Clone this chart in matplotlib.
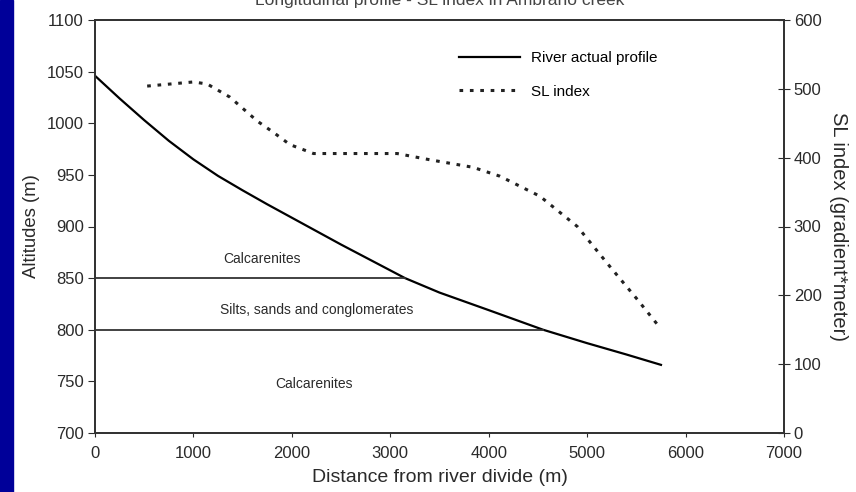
import matplotlib
matplotlib.use("Agg")
import matplotlib.pyplot as plt
from matplotlib.patches import Rectangle

plt.rcParams['font.family'] = ['Liberation Sans', 'DejaVu Sans']

# river longitudinal profile (distance m, altitude m)
river_dist = [0, 250, 500, 750, 1000, 1250, 1500, 1750, 2000, 2250, 2500, 2750, 3000, 3150, 3500, 4000, 4553, 5000, 5400, 5750]
river_alt = [1046, 1024, 1003, 983, 965, 949, 935, 921.5, 908.5, 895.5, 882.5, 870, 857.5, 850, 836, 819, 800, 787, 776, 766]

# SL index (distance m, gradient*meter)
sl_dist = [530, 1000, 1140, 1370, 1650, 1810, 1980, 2220, 2600, 3070, 3400, 3840, 4115, 4520, 4900, 5230, 5510, 5740]
sl_vals = [504, 510, 507, 488, 453, 437, 419, 406, 406, 406, 397, 386, 373, 344, 300, 242, 194, 153]

# lithological boundaries (altitude, end distance where they meet the river)
bound_alt = [850, 800]
bound_end = [3150, 4553]

# unit labels (distance, altitude, text)
unit_x = [1700, 2250, 2220]
unit_y = [869, 819, 747]
unit_txt = ["Calcarenites", "Silts, sands and conglomerates", "Calcarenites"]

txt = "#2a2a2a"

fig = plt.figure(figsize=(8.56, 4.92), dpi=100)
fig.patches.append(Rectangle((0, 0), 13 / 856, 1, transform=fig.transFigure,
                             color="#000099", zorder=0))

ax = fig.add_axes([95 / 856, 1 - 433 / 492, 689 / 856, 413 / 492])
ax2 = ax.twinx()

line_river, = ax.plot(river_dist, river_alt, color="black", lw=1.6)
line_sl, = ax2.plot(sl_dist, sl_vals, color="#222222", lw=2.2,
                    linestyle=(0, (1.2, 2.2)))

for a, e in zip(bound_alt, bound_end):
    ax.plot([0, e], [a, a], color="#333333", lw=1.3)

for x, y, t in zip(unit_x, unit_y, unit_txt):
    ax.text(x, y, t, ha="center", va="center", fontsize=10, color=txt)

ax.set_xlim(0, 7000)
ax.set_ylim(700, 1100)
ax2.set_ylim(0, 600)
ax.set_xticks(range(0, 7001, 1000))
ax.set_yticks(range(700, 1101, 50))
ax2.set_yticks(range(0, 601, 100))

ax.tick_params(axis="x", direction="out", length=3, labelsize=12, colors=txt, pad=6)
ax.tick_params(axis="y", direction="out", length=5, labelsize=12, colors=txt, pad=3)
ax2.tick_params(axis="y", direction="inout", length=8, labelsize=12, colors=txt, pad=3)

for a in (ax, ax2):
    for s in a.spines.values():
        s.set_color("#333333")
        s.set_linewidth(1.3)

ax.set_xlabel("Distance from river divide (m)", fontsize=14, color=txt, labelpad=6)
ax.set_ylabel("Altitudes (m)", fontsize=13.3, color=txt, labelpad=5)
ax2.set_ylabel("SL index (gradient*meter)", fontsize=14.5, color=txt,
               rotation=270, labelpad=19)

# title sits at the very top edge of the figure
ax.set_title("Longitudinal profile - SL index in Ambrano creek", fontsize=12.5,
             color="#444444", y=1.0, pad=10.5)

ax.legend([line_river, line_sl], ["River actual profile", "SL index"],
          loc="upper left", bbox_to_anchor=(0.528, 0.925), frameon=False,
          borderpad=0, borderaxespad=0, fontsize=11, handlelength=4.0,
          handletextpad=0.7, labelspacing=1.3)

fig.savefig("out.png", dpi=100)
